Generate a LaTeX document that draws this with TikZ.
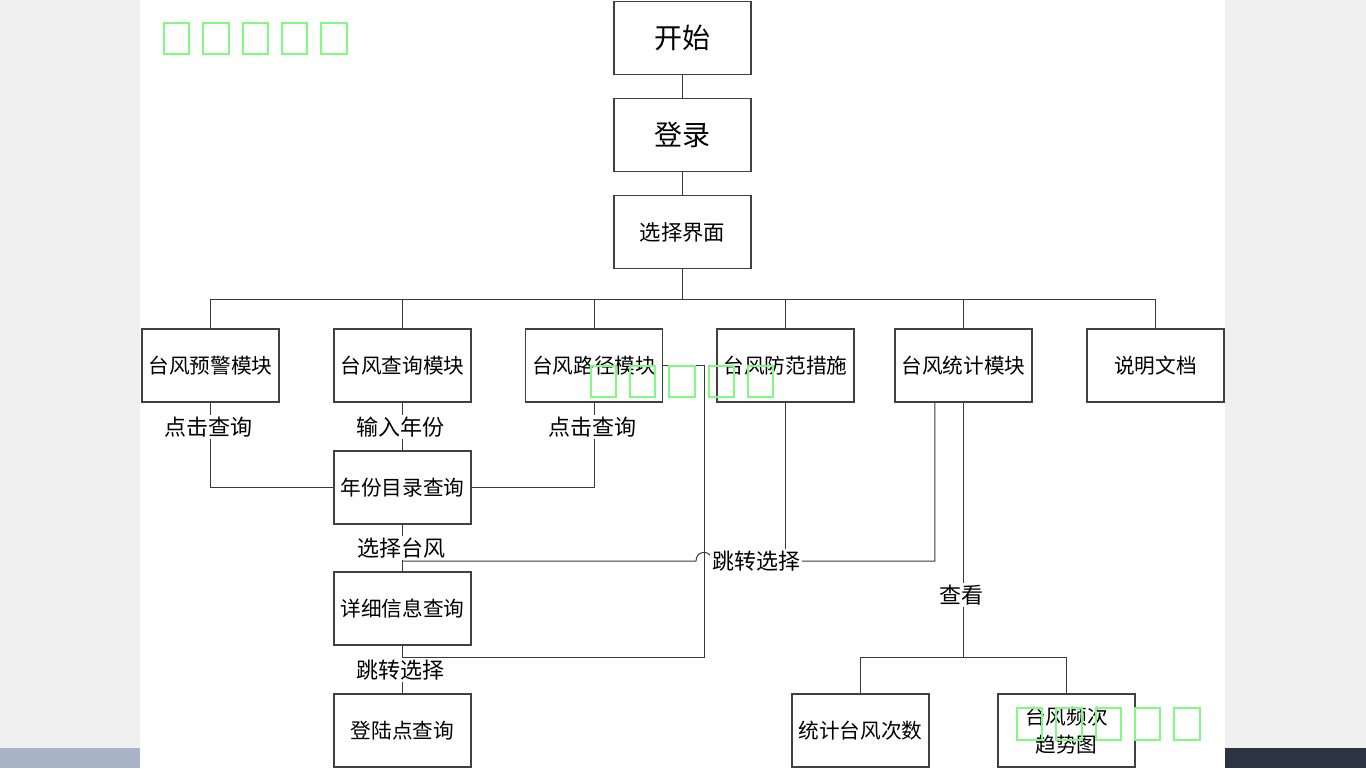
\documentclass[tikz,border=0pt]{standalone}
\usepackage{fontspec}
\setmainfont{Noto Sans CJK SC}
\usetikzlibrary{positioning,calc}

\definecolor{pagegrey}{HTML}{F0F0F0}
\definecolor{barblue}{HTML}{AAB4C7}
\definecolor{bardark}{HTML}{2B3440}
\definecolor{wmgreen}{RGB}{128,250,128}
\definecolor{edgegrey}{HTML}{3A3A3A}

\begin{document}
\begin{tikzpicture}[
    x=0.75pt, y=-0.75pt,
    box/.style={draw=black!75, line width=0.8pt, fill=white, align=center,
                minimum width=102.75pt, minimum height=54.75pt, inner sep=0pt,
                font=\fontsize{15.5}{21}\selectfont},
    bigbox/.style={box, font=\fontsize{21}{25}\selectfont},
    link/.style={draw=edgegrey, line width=0.75pt},
    lbl/.style={fill=white, inner sep=1.5pt, font=\fontsize{16.5}{20}\selectfont},
    wm/.style={draw=wmgreen, line width=1.5pt},
  ]

  % ---------- page: grey margins, white sheet, bottom bars ----------
  \useasboundingbox (0,0) rectangle (1366,768);
  \fill[pagegrey] (0,0) rectangle (1366,768);
  \fill[white] (140,0) rectangle (1225,768);
  \fill[barblue] (0,748) rectangle (140,768);
  \fill[bardark] (1225,748) rectangle (1366,768);

  % ---------- main column ----------
  \node[bigbox] (start) at (682.5,38) {开始};
  \node[bigbox] (login) at (682.5,135) {登录};
  \node[box, font=\fontsize{16}{20}\selectfont] (menu) at (682.5,232) {选择界面};

  % ---------- module row ----------
  \node[box] (warn)  at (210.5,365.5)  {台风预警模块};
  \node[box] (query) at (402.5,365.5)  {台风查询模块};
  \node[box] (track) at (594,365.5)    {台风路径模块};
  \node[box] (guard) at (785.5,365.5)  {台风防范措施};
  \node[box] (stat)  at (963.5,365.5)  {台风统计模块};
  \node[box] (doc)   at (1155.5,365.5) {说明文档};

  % ---------- query chain ----------
  \node[box] (yeardir) at (402.5,487.5) {年份目录查询};
  \node[box] (detail)  at (402.5,608.5) {详细信息查询};
  \node[box] (landing) at (402.5,730.5) {登陆点查询};

  % ---------- statistics outputs ----------
  \node[box] (count) at (860.5,730.5)  {统计台风次数};
  \node[box] (trend) at (1066.5,730.5) {台风频次\\趋势图};

  % ---------- turning points ----------
  \coordinate (bus)       at (682.5,299);
  \coordinate (hopR)      at (712,561);
  \coordinate (hopL)      at (696,561);
  \coordinate (detjoin)   at (402.5,561);
  \coordinate (backtrack) at (704,657);
  \coordinate (landjoin)  at (402.5,657);
  \coordinate (fork)      at (963.5,657);

  % ---------- connectors ----------
  \draw[link] (start) -- (login);
  \draw[link] (login) -- (menu);
  \draw[link] (menu) -- (bus);
  \foreach \m in {warn,query,track,guard,stat,doc}
    \draw[link] (bus) -| (\m.north);

  \draw[link] (warn.south) |- (yeardir.west);
  \draw[link] (query) -- (yeardir);
  \draw[link] (track.south) |- (yeardir.east);
  \draw[link] (yeardir) -- (detail);
  \draw[link] (detail) -- (landing);

  \draw[link] (track.east) -| (backtrack) -- (landjoin);
  \draw[link] ([xshift=-21.4pt]stat.south) |- (hopR)
    .. controls (712,549.5) and (696,549.5) .. (hopL) -- (detjoin);
  \draw[link] (guard.south) -- (guard.south |- hopR);

  \draw[link] (stat.south) -- (fork) -| (count.north);
  \draw[link] (fork) -| (trend.north);

  % ---------- connector labels ----------
  \node[lbl] (lwarn)  at (208,427) {点击查询};
  \node[lbl] (lquery) at (400,427) {输入年份};
  \node[lbl] (ltrack) at (592,427) {点击查询};
  \node[lbl] (lpick)  at (401,548) {选择台风};
  \node[lbl] (ljump)  at (756,561) {跳转选择};
  \node[lbl] (llook)  at (961,595) {查看};
  \node[lbl] (lback)  at (400,670) {跳转选择};

  % ---------- watermark boxes ----------
  \foreach \x in {164,203.3,242.6,282,321.3}
    \draw[wm] (\x,23.3) rectangle ++(25.3,31);
  \foreach \x in {590.7,630,669.3,708.6,748}
    \draw[wm] (\x,366) rectangle ++(25.3,31);
  \foreach \x in {1017,1056.3,1095.6,1135,1174.3}
    \draw[wm] (\x,708.3) rectangle ++(25.3,31.3);

\end{tikzpicture}
\end{document}
